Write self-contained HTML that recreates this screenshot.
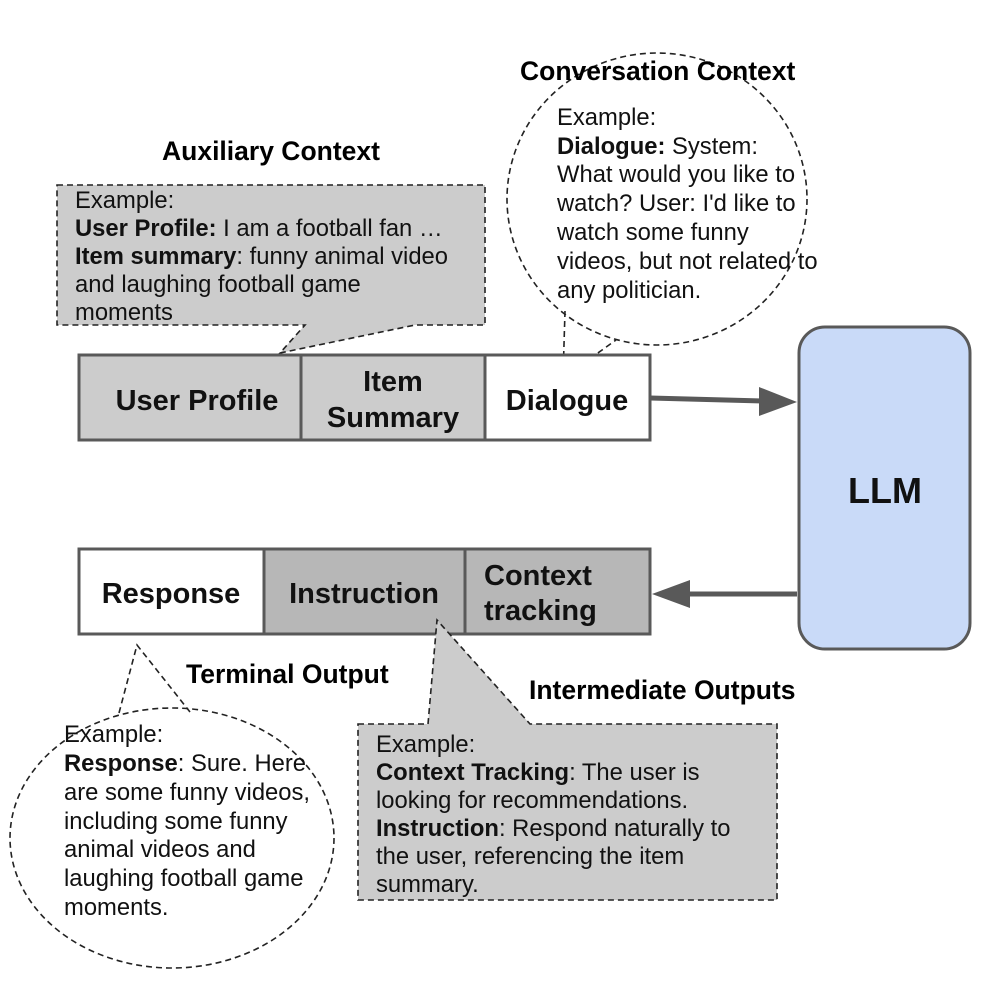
<!DOCTYPE html>
<html><head><meta charset="utf-8"><style>
body{margin:0;background:#fff}
svg{display:block;font-family:"Liberation Sans",Arial,sans-serif}
</style></head><body>
<svg width="999" height="989" viewBox="0 0 999 989" xmlns="http://www.w3.org/2000/svg">
<rect width="999" height="989" fill="#fff"/>
<!-- Auxiliary callout -->
<path d="M57,185 H485 V325 H415 L280,353 L305,325 H57 Z" fill="#cccccc" stroke="#222" stroke-width="1.6" stroke-dasharray="6,4"/>
<text x="162" y="160" font-size="26.5" font-weight="bold">Auxiliary Context</text>
<g font-size="23.8" fill="#111">
<text x="75" y="208">Example:</text>
<text x="75" y="236"><tspan font-weight="bold">User Profile:</tspan> I am a football fan …</text>
<text x="75" y="264"><tspan font-weight="bold">Item summary</tspan>: funny animal video</text>
<text x="75" y="292">and laughing football game</text>
<text x="75" y="320">moments</text>
</g>
<!-- Conversation circle -->
<ellipse cx="657" cy="199" rx="150" ry="146" fill="#fff" stroke="#222" stroke-width="1.6" stroke-dasharray="6,4"/>
<path d="M565,311 L563,378 L616,340" fill="none" stroke="#222" stroke-width="1.6" stroke-dasharray="6,4"/>
<text x="520" y="80" font-size="26.5" font-weight="bold">Conversation Context</text>
<g font-size="23.8" fill="#111">
<text x="557" y="125">Example:</text>
<text x="557" y="154"><tspan font-weight="bold">Dialogue:</tspan> System:</text>
<text x="557" y="182">What would you like to</text>
<text x="557" y="211">watch? User: I'd like to</text>
<text x="557" y="240">watch some funny</text>
<text x="557" y="269">videos, but not related to</text>
<text x="557" y="298">any politician.</text>
</g>
<!-- Top row -->
<rect x="79" y="355" width="222" height="85" fill="#cccccc"/>
<rect x="301" y="355" width="184" height="85" fill="#cccccc"/>
<rect x="485" y="355" width="165" height="85" fill="#fff"/>
<g fill="none" stroke="#595959" stroke-width="3">
<rect x="79" y="355" width="571" height="85"/>
<line x1="301" y1="355" x2="301" y2="440"/>
<line x1="485" y1="355" x2="485" y2="440"/>
</g>
<g font-size="29" font-weight="bold" fill="#111" text-anchor="middle">
<text x="197" y="410">User Profile</text>
<text x="393" y="391">Item</text>
<text x="393" y="427">Summary</text>
<text x="567" y="410">Dialogue</text>
</g>
<!-- Top arrow -->
<line x1="650" y1="398" x2="765" y2="401" stroke="#595959" stroke-width="5"/>
<polygon points="759,387 797,402 759,416" fill="#595959"/>
<!-- LLM -->
<rect x="799" y="327" width="171" height="322" rx="26" fill="#c9daf8" stroke="#595959" stroke-width="3"/>
<text x="885" y="503" font-size="36" font-weight="bold" text-anchor="middle" fill="#111">LLM</text>
<!-- Bottom arrow -->
<line x1="797" y1="594" x2="685" y2="594" stroke="#595959" stroke-width="5"/>
<polygon points="652,594 690,580 690,608" fill="#595959"/>
<!-- Bottom row -->
<rect x="79" y="549" width="185" height="85" fill="#fff"/>
<rect x="264" y="549" width="201" height="85" fill="#b7b7b7"/>
<rect x="465" y="549" width="185" height="85" fill="#b7b7b7"/>
<g fill="none" stroke="#595959" stroke-width="3">
<rect x="79" y="549" width="571" height="85"/>
<line x1="264" y1="549" x2="264" y2="634"/>
<line x1="465" y1="549" x2="465" y2="634"/>
</g>
<g font-size="29" font-weight="bold" fill="#111">
<text x="171" y="603" text-anchor="middle">Response</text>
<text x="364" y="603" text-anchor="middle">Instruction</text>
<text x="484" y="585">Context</text>
<text x="484" y="620">tracking</text>
</g>
<!-- Terminal circle -->
<ellipse cx="172" cy="838" rx="162" ry="130" fill="#fff" stroke="#222" stroke-width="1.6" stroke-dasharray="6,4"/>
<path d="M119,713 L137,645 L190,712" fill="none" stroke="#222" stroke-width="1.6" stroke-dasharray="6,4"/>
<rect x="184" y="660" width="210" height="30" fill="#fff"/>
<text x="186" y="683" font-size="26.5" font-weight="bold">Terminal Output</text>
<g font-size="23.8" fill="#111">
<text x="64" y="742">Example:</text>
<text x="64" y="771"><tspan font-weight="bold">Response</tspan>: Sure. Here</text>
<text x="64" y="800">are some funny videos,</text>
<text x="64" y="829">including some funny</text>
<text x="64" y="857">animal videos and</text>
<text x="64" y="886">laughing football game</text>
<text x="64" y="915">moments.</text>
</g>
<!-- Intermediate callout -->
<path d="M358,724 H428 L437,620 L530,724 H777 V900 H358 Z" fill="#cccccc" stroke="#222" stroke-width="1.6" stroke-dasharray="6,4"/>
<text x="529" y="699" font-size="26.5" font-weight="bold">Intermediate Outputs</text>
<g font-size="23.8" fill="#111">
<text x="376" y="752">Example:</text>
<text x="376" y="780"><tspan font-weight="bold">Context Tracking</tspan>: The user is</text>
<text x="376" y="808">looking  for recommendations.</text>
<text x="376" y="836"><tspan font-weight="bold">Instruction</tspan>: Respond naturally to</text>
<text x="376" y="864">the user, referencing the item</text>
<text x="376" y="892">summary.</text>
</g>
</svg>
</body></html>
